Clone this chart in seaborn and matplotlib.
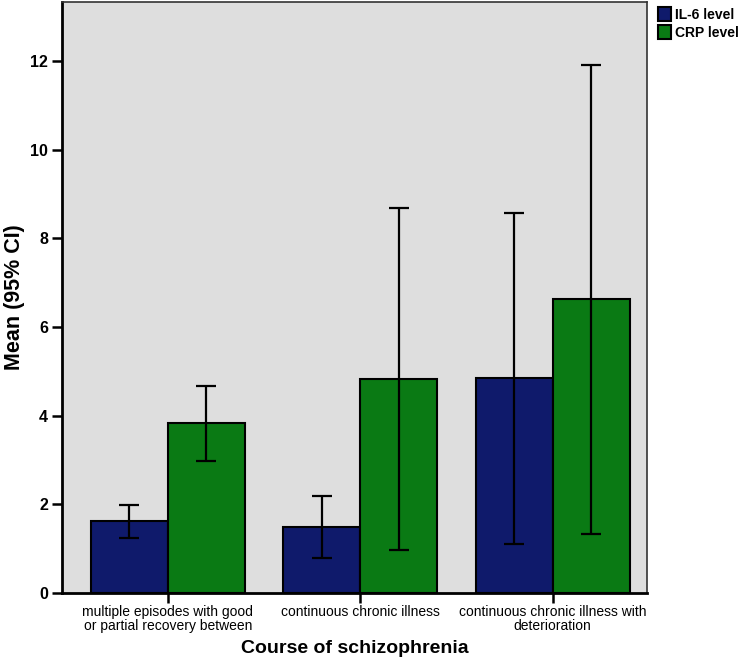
import pandas as pd
import matplotlib.pyplot as plt
import seaborn as sns

courses = ["multiple episodes with good\nor partial recovery between",
           "continuous chronic illness",
           "continuous chronic illness with\ndeterioration"]
il6_mean = [1.62, 1.49, 4.85]
il6_lo = [1.25, 0.79, 1.11]
il6_hi = [1.98, 2.19, 8.57]
crp_mean = [3.83, 4.83, 6.63]
crp_lo = [2.97, 0.97, 1.32]
crp_hi = [4.67, 8.68, 11.92]
markers = ["IL-6 level", "CRP level"]

df = pd.DataFrame({
    "course": courses * 2,
    "marker": [markers[0]] * 3 + [markers[1]] * 3,
    "mean": il6_mean + crp_mean,
    "lo": il6_lo + crp_lo,
    "hi": il6_hi + crp_hi,
})

sns.set_style("white")
plt.rcParams['font.family'] = ['Liberation Sans', 'DejaVu Sans']
plt.rcParams['text.color'] = 'black'
plt.rcParams['axes.labelcolor'] = 'black'
plt.rcParams['xtick.color'] = 'black'
plt.rcParams['ytick.color'] = 'black'

fig = plt.figure(figsize=(7.42, 6.65), dpi=100)
ax = fig.add_axes([0.0836, 0.1083, 0.7884, 0.8887])
ax.set_facecolor("#dedede")

sns.barplot(data=df, x="course", y="mean", hue="marker", hue_order=markers,
            palette=["#0f1a6b", "#0a7a14"], errorbar=None, width=0.8,
            edgecolor="black", linewidth=1.5, saturation=1, ax=ax)

# error bars at the bar centres (patches ordered hue-major)
for bar, (_, row) in zip(ax.patches[:6], df.iterrows()):
    xc = bar.get_x() + bar.get_width() / 2
    m = row["mean"]
    ax.errorbar(xc, m, yerr=[[m - row["lo"]], [row["hi"] - m]], fmt="none",
                ecolor="black", elinewidth=1.6, capsize=7, capthick=1.6)

ax.set_xlim(-0.55, 2.49)
ax.set_ylim(0, 13.33)
ax.set_yticks([0, 2, 4, 6, 8, 10, 12])
for s in ax.spines.values():
    s.set_linewidth(1.2)
    s.set_color("#333333")
ax.spines["left"].set_linewidth(2)
ax.spines["bottom"].set_linewidth(2)
ax.spines["left"].set_color("black")
ax.spines["bottom"].set_color("black")
ax.tick_params(axis="both", which="both", length=7, width=1.8, color="black",
               left=True, bottom=True, pad=3)
ax.tick_params(axis="y", labelsize=11.5)
ax.tick_params(axis="x", labelsize=10, pad=2)
for t in ax.get_yticklabels():
    t.set_fontweight("bold")
for t in ax.get_xticklabels():
    t.set_linespacing(0.95)
ax.set_xlabel("Course of schizophrenia", fontsize=14, fontweight="bold", labelpad=5)
ax.set_ylabel("Mean (95% CI)", fontsize=15.5, fontweight="bold", labelpad=4)

ax.legend(title=None, loc="upper left", bbox_to_anchor=(1.005, 1.005),
          frameon=False, handlelength=0.9, handleheight=1.1, handletextpad=0.3,
          labelspacing=0.25, borderaxespad=0.2, prop={"weight": "bold", "size": 10})

fig.savefig("out.png", dpi=100)
